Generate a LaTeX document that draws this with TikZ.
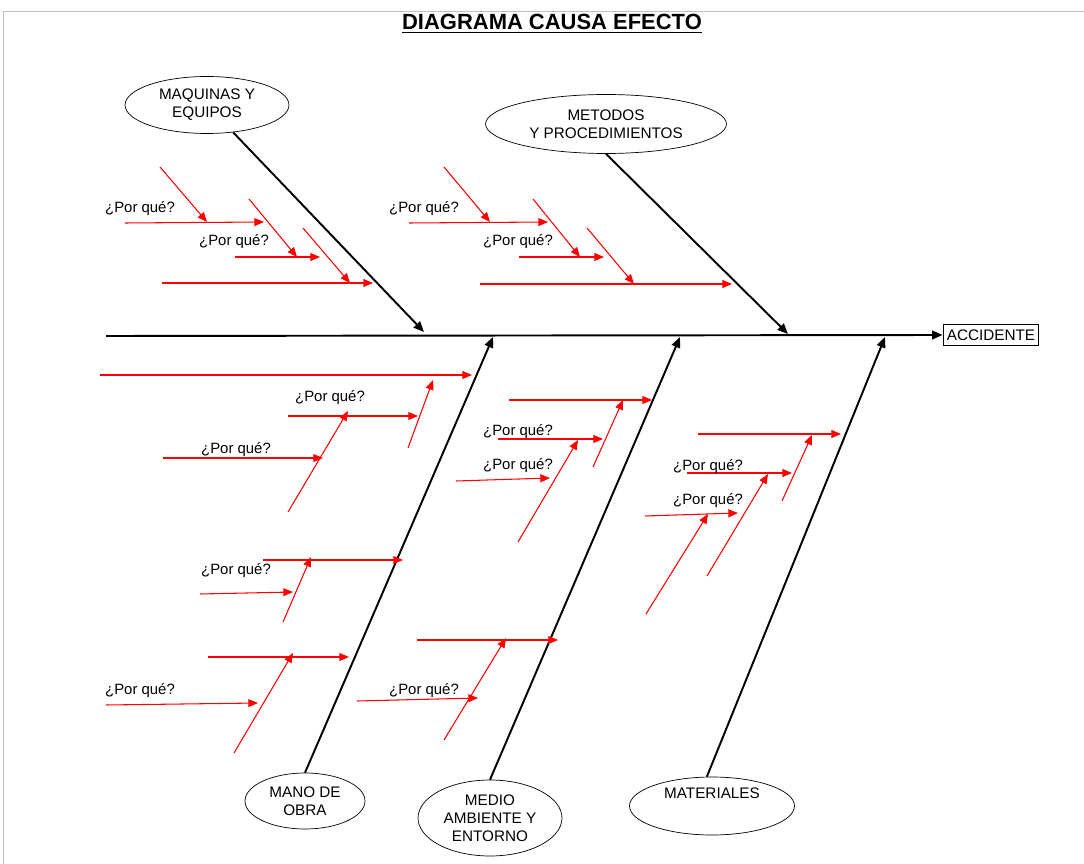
\documentclass[tikz,border=0pt]{standalone}
\usepackage{fontspec}
\setmainfont{Liberation Sans}
\usetikzlibrary{arrows,arrows.meta,shapes.geometric}

\tikzset{
  cause/.style={draw,ellipse,thin,align=center,inner sep=0pt,font=\fontsize{8.7}{10.2}\selectfont},
  bone/.style={line width=1.1pt,-{Triangle[length=6pt,width=5pt]}},
  why/.style={red,line width=0.6pt,-{Triangle[length=5.5pt,width=4.5pt]}},
  whylbl/.style={font=\fontsize{8.5}{9}\selectfont,inner sep=0pt}
}

\begin{document}
\begin{tikzpicture}[x=0.02cm,y=-0.02cm]
\useasboundingbox (0,0) rectangle (1084,864);
\draw[gray!50] (3,864)--(3,11)--(1084,11);
\node[font=\bfseries\fontsize{12.5}{14}\selectfont] (title) at (552,24) {\underline{DIAGRAMA CAUSA EFECTO}};

% causas
\node[cause,minimum width=3.28cm,minimum height=1.14cm] (maq) at (207,105) {MAQUINAS Y\\EQUIPOS};
\node[cause,minimum width=4.82cm,minimum height=1.18cm] (met) at (606,124) {METODOS\\Y PROCEDIMIENTOS};
\node[cause,minimum width=2.4cm,minimum height=1.12cm] (mano) at (305,801) {MANO DE\\OBRA};
\node[cause,minimum width=2.88cm,minimum height=1.52cm] (medio) at (490,818) {MEDIO\\AMBIENTE Y\\ENTORNO};
\node[cause,minimum width=3.3cm,minimum height=1.16cm] (mat) at (712,806) {MATERIALES\\[4pt]\mbox{}};
\node[draw,line width=1.1pt,inner sep=1.5pt,minimum width=1.9cm,minimum height=0.42cm,
  font=\fontsize{8.7}{10}\selectfont] (acc) at (991,335) {ACCIDENTE};

% espina
\coordinate (cola) at (106,336);
\coordinate (s1) at (424,332);
\coordinate (s2) at (788,334);
\coordinate (s3) at (493,337);
\coordinate (s4) at (680,337);
\coordinate (s5) at (885,337);
\draw[bone] (cola) -- (acc.west);
\draw[bone] (maq) -- (s1);
\draw[bone] (met.south) -- (s2);
\draw[bone] (mano.north) -- (s3);
\draw[bone] (medio.north) -- (s4);
\draw[bone] (mat.100) -- (s5);

% porques
\foreach \a/\b/\c/\d in {160/167/207/222, 125/223/264/222, 249/199/297/257, 235/257/320/257,
  303/228/350/283, 162/283/373/283, 444/167/490/222, 409/223/548/222, 533/199/580/257,
  519/257/604/257, 587/228/634/284, 480/284/732/284, 100/375/472/375, 408/448/433/380,
  288/416/418/416, 288/512/348/411, 163/458/323/458, 263/560/403/560, 283/622/311/557,
  200/594/293/592, 208/657/349/657, 234/753/293/653, 106/705/258/703, 509/400/652/400,
  593/467/623/400, 498/439/603/439, 518/542/578/440, 456/481/550/478, 417/640/558/640,
  444/740/506/638, 357/701/478/698, 698/434/841/434, 782/501/812/435, 687/473/792/473,
  707/576/768/474, 645/516/738/513, 646/614/708/514}
  \draw[why] (\a,\b) -- (\c,\d);
\foreach \p/\q [count=\i] in {140/209, 234/242, 424/209, 518/242, 330/398, 236/450, 236/571,
  140/691, 518/432, 518/466, 424/691, 708/467, 708/501}
  \node[whylbl] (pq\i) at (\p,\q) {¿Por qué?};
\end{tikzpicture}
\end{document}
